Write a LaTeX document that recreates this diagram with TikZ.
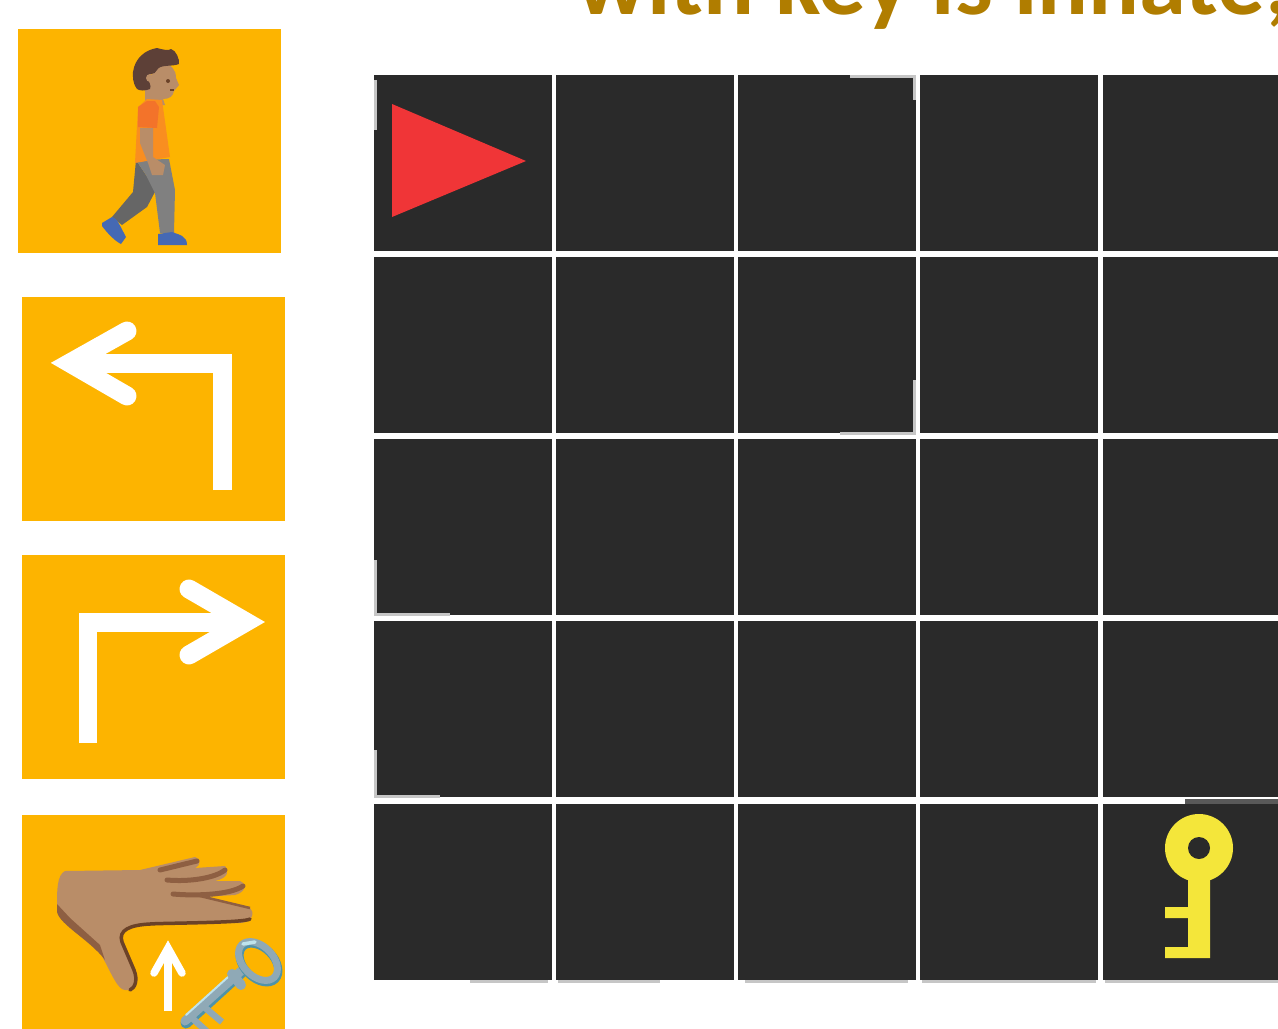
\documentclass[tikz,border=0pt]{standalone}
\usepackage{fontspec}
\usepackage{xcolor}
\setmainfont{Carlito}
\usetikzlibrary{arrows.meta,calc}

\definecolor{panelorange}{HTML}{FDB400}
\definecolor{titlegold}{HTML}{B07D00}
\definecolor{celldark}{HTML}{2A2A2A}
\definecolor{agentred}{HTML}{F03537}
\definecolor{keyyellow}{HTML}{F4E63A}
\definecolor{skintone}{HTML}{B98D68}
\definecolor{skinshade}{HTML}{8E5F42}
\definecolor{skinline}{HTML}{6B4228}
\definecolor{hairbrown}{HTML}{5D4037}
\definecolor{shirtorange}{HTML}{F98E20}
\definecolor{sleeveorange}{HTML}{F3732A}
\definecolor{legfront}{HTML}{808080}
\definecolor{legback}{HTML}{666666}
\definecolor{shoeblue}{HTML}{4569B4}
\definecolor{keysteel}{HTML}{8FA9B6}
\definecolor{keyteal}{HTML}{4F93A8}
\definecolor{keylight}{HTML}{BFE3EC}

\begin{document}
\begin{tikzpicture}[x=0.02cm, y=-0.02cm,
  panel/.style={fill=panelorange},
  cell/.style={fill=celldark},
  worn/.style={gray!45, line width=0.06cm},
  turnarrow/.style={draw=white, line width=0.38cm, line join=miter},
  turnhead/.style={draw=white, line width=0.38cm, line cap=round, line join=miter}]
\clip (0,0) rectangle (1278,1028);
\fill[white] (0,0) rectangle (1278,1028);

% title, cut by the page
\node[anchor=base west, inner sep=0pt, text=titlegold, font=\fontsize{54}{54}\selectfont\bfseries] (title) at (576,14) {with key is innate,};

% action panels
\fill[panel] (18,29) rectangle (281,253);
\fill[panel] (22,297) rectangle (285,521);
\fill[panel] (22,555) rectangle (285,779);
\fill[panel] (22,815) rectangle (285,1040);

% grid cells
\foreach \cx in {374,556,738,920,1103}
  \foreach \cy in {75,257,439,621,804}
    \fill[cell] (\cx,\cy) rectangle ++(178,176);

% worn cell edges
\fill[gray!70!black] (1185,799) rectangle (1278,804);
\draw[worn] (470,981) -- (548,981);
\draw[worn] (558,981) -- (660,981);
\draw[worn] (745,981) -- (908,981);
\draw[worn] (922,981) -- (1096,981);
\draw[worn] (1105,981) -- (1278,981);
\draw[worn] (375,80) -- (375,130);
\draw[worn] (850,76) -- (914,76) -- (914,100);
\draw[worn] (375,560) -- (375,614) -- (450,614);
\draw[worn] (375,750) -- (375,796) -- (440,796);
\draw[worn] (840,433) -- (914,433) -- (914,380);

% agent triangle
\fill[agentred] (392,104) -- (526,161) -- (392,217) -- cycle;

% key in the grid
\fill[keyyellow] (1199,848) circle (34);
\fill[keyyellow] (1188,870) -- (1210,870) -- (1210,958) -- (1165,958) -- (1165,947) -- (1188,947) -- (1188,918) -- (1165,918) -- (1165,907) -- (1188,907) -- cycle;
\fill[celldark] (1199,848) circle (11);

% turn left arrow
\draw[turnarrow] (222,490) -- (222,363) -- (70,363);
\draw[turnhead] (127,331) -- (70,363) -- (127,396);

% turn right arrow
\draw[turnarrow] (88,743) -- (88,622) -- (246,622);
\draw[turnhead] (189,589) -- (246,622) -- (189,655);

% walking person
\fill[skintone] (145,85) -- (145,105) -- (165,105) -- (163,99) .. controls (170,99) and (173,96) .. (174,91) -- (179,85) -- (176,78) .. controls (176,70) and (172,64) .. (160,62) -- cycle;
\fill[hairbrown] (133,72) .. controls (135,58) and (145,50) .. (157,48) .. controls (165,50) and (168,51) .. (171,49) .. controls (176,50) and (180,60) .. (179,64) .. controls (172,67) and (160,64) .. (157,70) .. controls (155,76) and (147,72) .. (148,78) .. controls (148,82) and (152,85) .. (150,89) .. controls (145,91) and (140,91) .. (137,89) .. controls (132,82) and (133,76) .. (133,72) -- cycle;
\fill[skintone] (150,78) circle (4);
\fill[skinline] (168,81) circle (2);
\draw[skinline, line width=0.03cm] (170,90) -- (174,90);
% back leg
\fill[legback] (136,160) -- (133,192) -- (112,217) -- (122,225) -- (147,207) -- (156,190) -- cycle;
% front leg
\fill[legfront] (136,160) -- (169,159) -- (175,190) -- (174,233) -- (160,233) -- (155,193) -- (146,175) -- cycle;
% shoes
\fill[shoeblue] (102,223) -- (112,217) .. controls (117,218) and (118,222) .. (126,237) -- (121,244) .. controls (115,241) and (108,234) .. (102,226) -- cycle;
\fill[shoeblue] (158,234) -- (172,232) .. controls (180,235) and (187,236) .. (187,245) -- (158,245) -- cycle;
% shirt and arm
\fill[shirtorange] (138,107) -- (147,99) -- (162,100) -- (170,157) -- (135,163) -- cycle;
\fill[sleeveorange] (138,107) -- (147,101) -- (155,101) -- (159,107) -- (157,128) -- (138,127) -- cycle;
\fill[skintone] (140,128) -- (153,128) -- (153,157) -- (165,165) -- (163,175) -- (152,175) -- (148,163) -- (140,143) -- cycle;

% hand
\fill[skintone] (57,905) .. controls (57,890) and (57,875) .. (65,871) -- (140,870) -- (195,857) .. controls (201,858) and (201,866) .. (195,868) -- (225,866) .. controls (229,870) and (229,878) .. (215,881) -- (240,881) .. controls (247,884) and (246,892) .. (235,895) -- (200,897) -- (250,908) .. controls (255,912) and (253,922) .. (240,923) -- (150,924) .. controls (130,925) and (118,930) .. (122,942) -- (136,972) .. controls (139,985) and (133,991) .. (125,990) .. controls (118,990) and (112,975) .. (100,952) .. controls (90,940) and (65,925) .. (57,905) -- cycle;
\fill[skinshade] (57,904) -- (70,918) -- (100,945) -- (105,960) .. controls (90,940) and (60,925) .. (57,912) -- cycle;
\draw[skinshade, line width=0.1cm, line cap=round] (160,870) -- (197,861);
\draw[skinshade, line width=0.1cm, line cap=round] (167,880) .. controls (190,882) and (215,878) .. (225,870);
\draw[skinshade, line width=0.1cm, line cap=round] (173,894) .. controls (195,896) and (230,895) .. (243,886);
\draw[skinline, line width=0.07cm, line cap=round] (250,919) .. controls (245,923) and (160,923) .. (150,924) .. controls (130,925) and (118,930) .. (122,942) -- (134,970) .. controls (138,980) and (135,988) .. (130,990);
\draw[skinshade, line width=0.05cm] (200,896) -- (250,908);

% pick up arrow
\draw[white, line width=0.15cm] (168,1011) -- (168,950);
\draw[white, line width=0.15cm, line cap=round, line join=miter] (154,973) -- (168,948) -- (182,973);

% silver key
\draw[keyteal, line width=0.22cm, line cap=round] (241,973) -- (186,1023);
\draw[keysteel, line width=0.18cm, line cap=round] (241,971) -- (185,1021);
\draw[keylight, line width=0.04cm, line cap=round] (228,977) -- (186,1015);
\draw[keysteel, line width=0.13cm] (203,1006) -- (222,1022);
\draw[keysteel, line width=0.13cm] (192,1018) -- (212,1036);
\draw[keysteel, line width=0.2cm, line cap=round] (232,974) -- (241,985);
\draw[keyteal, line width=0.16cm, rotate around={-45:(259,963)}] (259,963) ellipse (23 and 15);
\draw[keysteel, line width=0.14cm, rotate around={-45:(258,961)}] (258,961) ellipse (23 and 15);
\draw[keylight, line width=0.07cm, line cap=round] (243,944) -- (255,942);
\end{tikzpicture}
\end{document}
